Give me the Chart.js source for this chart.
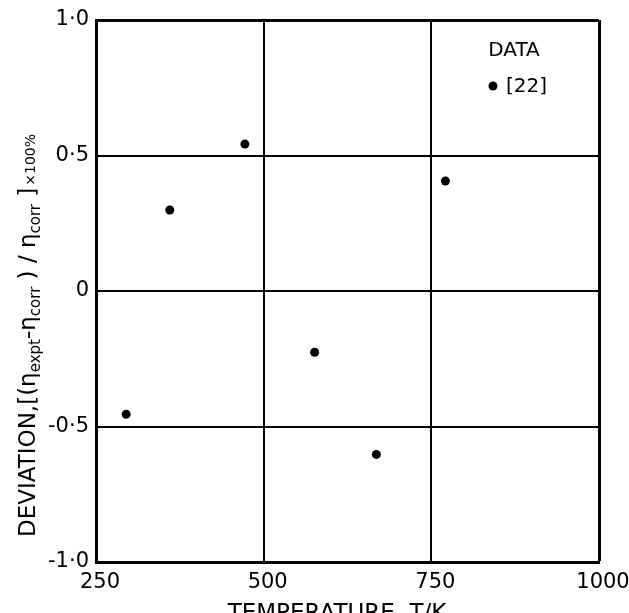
<!DOCTYPE html>
<html>
<head>
<meta charset="utf-8">
<script src="https://cdn.jsdelivr.net/npm/chart.js@4.4.1/dist/chart.umd.min.js"></script>
<style>
  html, body { margin: 0; padding: 0; background: #fff; }
  .chart-container { position: relative; width: 629px; height: 613px; }
</style>
</head>
<body>
<div class="chart-container">
  <canvas id="chart"></canvas>
</div>
<script>
// values
const tempK = [295, 360, 472, 576, 668, 771];
const deviation = [-0.455, 0.299, 0.542, -0.226, -0.603, 0.406];
const seriesLabel = '[22]';
const legendTitle = 'DATA';

const xTickLabels = ['250', '500', '750', '1000'];
const yTickLabels = ['-1·0', '-0·5', '0', '0·5', '1·0'];
const xTitle = 'TEMPERATURE, T/K';

const FONT = "'DejaVu Sans', sans-serif";

const axisTitles = {
  id: 'axisTitles',
  afterDraw(chart) {
    const ctx = chart.ctx;
    ctx.save();
    ctx.fillStyle = '#000';

    // x title (bottom of the letters runs off the page, as in the scan)
    ctx.font = '23px ' + FONT;
    ctx.textAlign = 'center';
    ctx.textBaseline = 'alphabetic';
    ctx.fillText(xTitle, 337, 620);

    // y title with subscripts, drawn rotated
    const segs = [
      ['DEVIATION,[(', 'main'], ['η', 'main'], ['expt', 'sub'], ['-', 'main'],
      ['η', 'main'], ['corr', 'sub'], [' ) / ', 'main'], ['η', 'main'],
      ['corr', 'sub'], [' ]', 'main'], ['×100%', 'small']
    ];
    const fonts = { main: '23px ' + FONT, sub: '15px ' + FONT, small: '14px ' + FONT };
    const shift = { main: 0, sub: 5, small: 0 };
    ctx.translate(35, 537);
    ctx.rotate(-Math.PI / 2);
    ctx.textAlign = 'left';
    let x = 0;
    segs.forEach(([t, k]) => {
      ctx.font = fonts[k];
      if (k === 'small') x += 2;
      ctx.fillText(t, x, shift[k]);
      x += ctx.measureText(t).width;
    });
    ctx.restore();

    // legend
    ctx.save();
    ctx.fillStyle = '#000';
    ctx.font = '20px ' + FONT;
    ctx.textAlign = 'center';
    ctx.textBaseline = 'middle';
    ctx.fillText(legendTitle, 514, 51);
    ctx.beginPath();
    ctx.arc(493, 86, 4.5, 0, Math.PI * 2);
    ctx.fill();
    ctx.textAlign = 'left';
    ctx.fillText(chart.data.datasets[0].label, 506, 87);
    ctx.restore();
  }
};

new Chart(document.getElementById('chart').getContext('2d'), {
  type: 'scatter',
  data: {
    datasets: [{
      label: seriesLabel,
      data: tempK.map((t, i) => ({ x: t, y: deviation[i] })),
      pointRadius: 4.5,
      pointHoverRadius: 4.5,
      backgroundColor: '#000',
      borderWidth: 0
    }]
  },
  options: {
    responsive: true,
    maintainAspectRatio: false,
    animation: false,
    layout: { padding: { top: 20, right: 30, left: 0, bottom: 0 } },
    plugins: {
      legend: { display: false },
      tooltip: { enabled: false }
    },
    scales: {
      x: {
        type: 'linear',
        min: 250,
        max: 1000,
        ticks: {
          stepSize: 250,
          padding: 8,
          labelOffset: 4,
          color: '#000',
          font: { family: FONT, size: 21 },
          callback: (v, i) => xTickLabels[i]
        },
        grid: {
          color: '#000',
          drawTicks: false,
          lineWidth: (c) => (c.tick && c.tick.value === 1000 ? 3 : 2)
        },
        border: { color: '#000', width: 3 },
        afterFit(scale) {
          scale.height = 51;
          scale.paddingLeft = 0;
          scale.paddingRight = 0;
        }
      },
      y: {
        min: -1,
        max: 1,
        ticks: {
          stepSize: 0.5,
          padding: 7,
          color: '#000',
          font: { family: FONT, size: 21 },
          callback: (v, i) => yTickLabels[i]
        },
        grid: {
          color: '#000',
          drawTicks: false,
          lineWidth: (c) => (c.tick && c.tick.value === 1 ? 3 : 2)
        },
        border: { color: '#000', width: 3 },
        afterFit(scale) {
          scale.width = 96;
          scale.paddingTop = 0;
          scale.paddingBottom = 0;
        }
      }
    }
  },
  plugins: [axisTitles]
});
</script>
</body>
</html>
